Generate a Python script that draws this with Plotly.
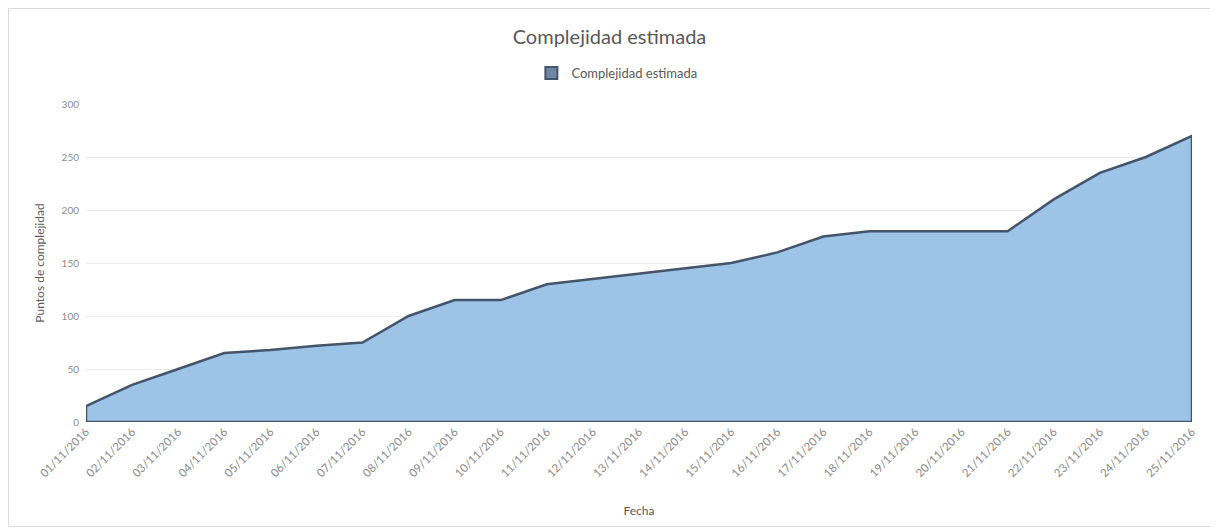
import plotly.graph_objects as go

fechas = ["01/11/2016", "02/11/2016", "03/11/2016", "04/11/2016", "05/11/2016",
          "06/11/2016", "07/11/2016", "08/11/2016", "09/11/2016", "10/11/2016",
          "11/11/2016", "12/11/2016", "13/11/2016", "14/11/2016", "15/11/2016",
          "16/11/2016", "17/11/2016", "18/11/2016", "19/11/2016", "20/11/2016",
          "21/11/2016", "22/11/2016", "23/11/2016", "24/11/2016", "25/11/2016"]
complejidad = [15, 35, 50, 65, 68, 72, 75, 100, 115, 115,
               130, 135, 140, 145, 150, 160, 175, 180, 180, 180,
               180, 210, 235, 250, 270]
y_ticks = [0, 50, 100, 150, 200, 250, 300]

FONT = "Lato"
GRAY = "#8a8a8a"
FILL = "#9dc3e6"
EDGE = "#44546a"

# closed outline (Excel area charts outline the full polygon)
xs = fechas + [fechas[-1], fechas[0], fechas[0]]
ys = complejidad + [0, 0, complejidad[0]]

fig = go.Figure()
fig.add_trace(go.Scatter(
    x=xs, y=ys, mode="lines", fill="toself",
    fillcolor=FILL,
    line=dict(color=EDGE, width=2.5),
    name="Complejidad estimada",
    showlegend=False,
))
# legend entry with a square swatch
fig.add_trace(go.Bar(
    x=[None], y=[None], name="Complejidad estimada",
    marker=dict(color="#6f86a3", line=dict(color=EDGE, width=2)),
    showlegend=True,
))

W, H = 1203, 519
L, R, T, B = 78, 19, 96, 105
PW = W - L - R
PH = H - T - B

fig.update_layout(
    width=W, height=H,
    paper_bgcolor="white", plot_bgcolor="white",
    margin=dict(l=L, r=R, t=T, b=B),
    font=dict(family=FONT, color=GRAY, size=10),
    title=dict(text="Complejidad estimada", x=0.5, xanchor="center",
               y=1 - 29 / H, yanchor="middle",
               font=dict(family=FONT, size=20, color="#595959")),
    legend=dict(orientation="h", x=0.48, xanchor="center",
                y=1 + (96 - 65) / PH, yanchor="middle",
                font=dict(family=FONT, size=13, color="#595959"),
                bgcolor="rgba(0,0,0,0)"),
    showlegend=True,
    xaxis=dict(
        type="category", categoryorder="array", categoryarray=fechas,
        range=[0, len(fechas) - 1],
        tickangle=-45, tickfont=dict(family=FONT, size=11.5, color=GRAY),
        showgrid=False, zeroline=False, showline=False, ticks="",
        title=dict(text="Fecha", standoff=28,
                   font=dict(family=FONT, size=12, color="#595959")),
    ),
    yaxis=dict(
        range=[0, 300], tickvals=y_ticks,
        tickfont=dict(family=FONT, size=10, color=GRAY),
        showgrid=True, gridcolor="#ececec", gridwidth=1,
        zeroline=False, showline=False, ticks="",
        ticklabelstandoff=6,
        title=dict(text="Puntos de complejidad", standoff=14,
                   font=dict(family=FONT, size=12, color="#595959")),
    ),
)

# chart border (figure edge)
fig.add_shape(type="rect", xref="paper", yref="paper",
              x0=-(L - 0.5) / PW, x1=1 + (R - 0.5) / PW,
              y0=-(B - 0.5) / PH, y1=1 + (T - 0.5) / PH,
              line=dict(color="#d9d9d9", width=1), fillcolor="rgba(0,0,0,0)",
              layer="below")

fig.write_html("out.html")
